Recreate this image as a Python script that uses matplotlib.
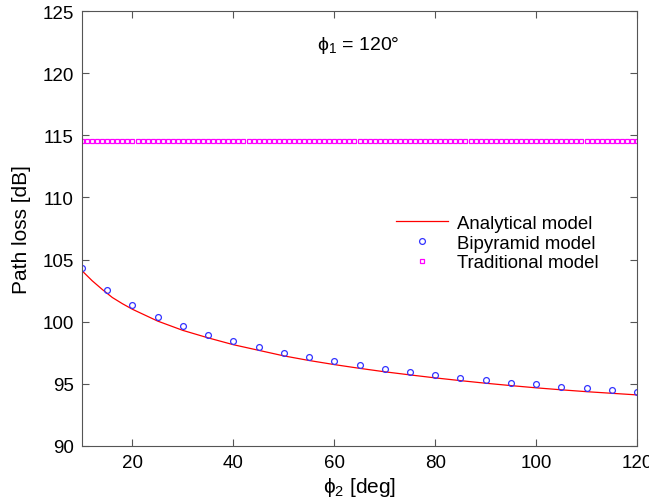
import matplotlib
matplotlib.use("Agg")
import matplotlib.pyplot as plt
import numpy as np

plt.rcParams["font.family"] = ["Liberation Sans", "DejaVu Sans"]
plt.rcParams["mathtext.fontset"] = "custom"
plt.rcParams["mathtext.rm"] = "Liberation Sans"
plt.rcParams["mathtext.it"] = "Liberation Sans"

# Analytical model (red line)
phi2_line = [10, 12, 14, 16, 18, 20, 25, 30, 35, 40, 45, 50, 55, 60, 65, 70,
             75, 80, 85, 90, 95, 100, 105, 110, 115, 120]
loss_line = [104.1, 103.3, 102.6, 101.95, 101.45, 101.0, 100.05, 99.3, 98.7,
             98.15, 97.7, 97.25, 96.88, 96.55, 96.25, 95.97, 95.72, 95.48,
             95.26, 95.05, 94.86, 94.68, 94.52, 94.37, 94.24, 94.11]

# Bipyramid model (blue circles)
phi2_bip = [10, 15, 20, 25, 30, 35, 40, 45, 50, 55, 60, 65, 70, 75, 80, 85,
            90, 95, 100, 105, 110, 115, 120]
loss_bip = [104.33, 102.58, 101.31, 100.38, 99.62, 98.95, 98.41, 97.96, 97.5,
            97.15, 96.8, 96.48, 96.21, 95.97, 95.73, 95.48, 95.3, 95.1, 94.95,
            94.78, 94.65, 94.52, 94.38]

# Traditional model (magenta squares), constant
phi2_trad = list(range(10, 121))
loss_trad = [114.54] * len(phi2_trad)

fig = plt.figure(figsize=(6.49, 5.02), dpi=100)
ax = fig.add_axes([0.1264, 0.1096, 0.8551, 0.8664])

ax.plot(phi2_line, loss_line, color="red", lw=0.9, label="Analytical model")
ax.plot(phi2_bip, loss_bip, ls="none", marker="o", ms=4.2, mfc="none",
        mec="#3333ff", mew=0.9, label="Bipyramid model")
ax.plot(phi2_trad, loss_trad, ls="none", marker="s", ms=3.2, mfc="none",
        mec="#ff00ff", mew=0.9, label="Traditional model")

ax.set_xlim(10, 120)
ax.set_ylim(90, 125)
ax.set_xticks([20, 40, 60, 80, 100, 120])
ax.set_yticks(np.arange(90, 126, 5))
ax.tick_params(direction="in", length=5, labelsize=13.5, top=True, right=True,
               color="#555555", pad=6)
for s in ax.spines.values():
    s.set_color("#555555")
    s.set_linewidth(0.8)

ax.set_xlabel(r"$\mathregular{\phi_2}$ [deg]", fontsize=15, labelpad=3)
ax.set_ylabel("Path loss [dB]", fontsize=15, labelpad=8)
ax.text(64.7, 122.3, r"$\mathregular{\phi_1}$ = 120°", fontsize=14,
        ha="center", va="center")

ax.legend(loc="upper left", bbox_to_anchor=(0.535, 0.57), frameon=False,
          fontsize=13.4, handlelength=2.8, labelspacing=0.15,
          handletextpad=0.5)

fig.savefig("out.png", dpi=100)
